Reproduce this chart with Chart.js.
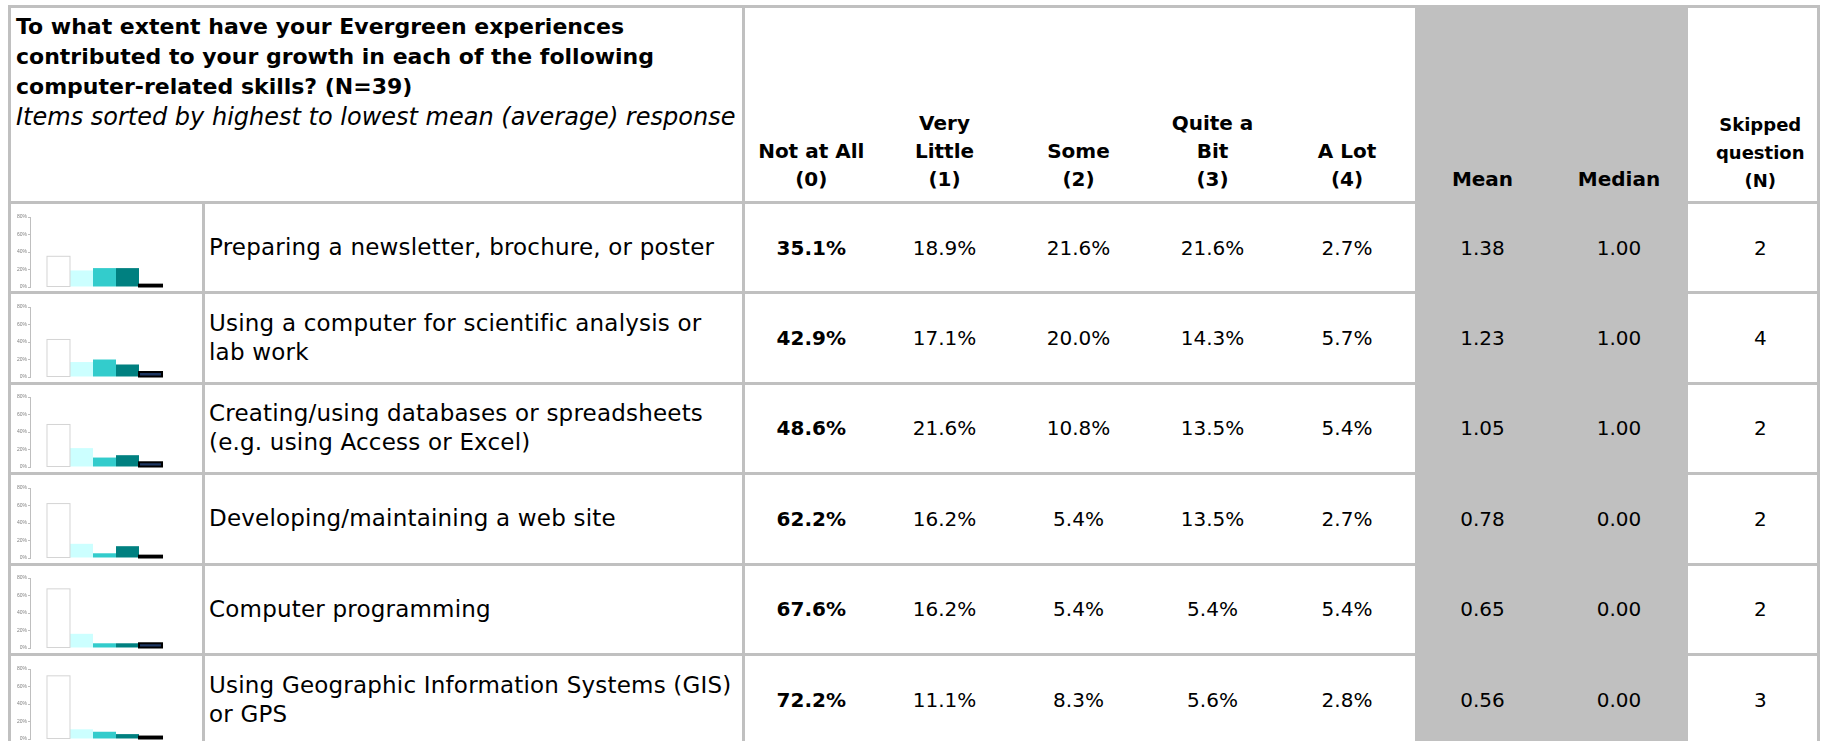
<!DOCTYPE html>
<html>
<head>
<meta charset="utf-8">
<script src="https://cdn.jsdelivr.net/npm/chart.js@4.4.1/dist/chart.umd.min.js"></script>
<style>
  html, body { margin: 0; padding: 0; background: #fff; overflow: hidden; }
  body { width: 1826px; height: 741px; position: relative;
         font-family: "DejaVu Sans", sans-serif; color: #000; }
  table { position: absolute; left: 8px; top: 5px; border-collapse: collapse; table-layout: fixed; }
  td { border: 3px solid #c0c0c0; padding: 0; font-size: 20px; }
  td.q { vertical-align: top; padding: 4px 5px; line-height: 30px; font-weight: bold; font-size: 22px; }
  td.q i { font-weight: normal; font-size: 24px; }
  td.h { vertical-align: bottom; text-align: center; font-weight: bold; line-height: 28px; padding-bottom: 8px; }
  td.nb { border-left: none; border-right: none; }
  td.gray { background: #c0c0c0; border-color: #c0c0c0; }
  td.chart { height: 84px; position: relative; }
  td.lab { padding: 0 4px; line-height: 29px; font-size: 23px; letter-spacing: 0.2px; white-space: pre-line; }
  td.num { text-align: center; }
  td.bold { font-weight: bold; }
  td.sk { border-left: none; padding-left: 16px; }
  .box { position: relative; width: 191px; height: 86px; }
</style>
</head>
<body>
<table id="tbl">
  <colgroup>
    <col style="width:194px"><col style="width:540px">
    <col style="width:134px"><col style="width:134px"><col style="width:134px"><col style="width:134px"><col style="width:135px">
    <col style="width:136px"><col style="width:137px"><col style="width:131px">
  </colgroup>
  <tr style="height:196px">
    <td class="q" colspan="2">To what extent have your Evergreen experiences<br>contributed to your growth in each of the following<br>computer-related skills? (N=39)<br><i>Items sorted by highest to lowest mean (average) response</i></td>
    <td class="h nb">Not at All<br>(0)</td>
    <td class="h nb">Very<br>Little<br>(1)</td>
    <td class="h nb">Some<br>(2)</td>
    <td class="h nb">Quite a<br>Bit<br>(3)</td>
    <td class="h nb">A Lot<br>(4)</td>
    <td class="h nb gray">Mean</td>
    <td class="h nb gray">Median</td>
    <td class="h sk" style="font-size:18px;padding-bottom:6px">Skipped<br>question<br>(N)</td>
  </tr>
</table>
<script>
// response categories
var responses = ["Not at All", "Very Little", "Some", "Quite a Bit", "A Lot"];

var items = [
  "Preparing a newsletter, brochure, or poster",
  "Using a computer for scientific analysis or\nlab work",
  "Creating/using databases or spreadsheets\n(e.g. using Access or Excel)",
  "Developing/maintaining a web site",
  "Computer programming",
  "Using Geographic Information Systems (GIS)\nor GPS"
];

// percent of answers per response
var notAtAll   = [35.1, 42.9, 48.6, 62.2, 67.6, 72.2];
var veryLittle = [18.9, 17.1, 21.6, 16.2, 16.2, 11.1];
var some       = [21.6, 20.0, 10.8, 5.4, 5.4, 8.3];
var quiteABit  = [21.6, 14.3, 13.5, 13.5, 5.4, 5.6];
var aLot       = [2.7, 5.7, 5.4, 2.7, 5.4, 2.8];

var means   = [1.38, 1.23, 1.05, 0.78, 0.65, 0.56];
var medians = [1.00, 1.00, 1.00, 0.00, 0.00, 0.00];
var skipped = [2, 4, 2, 2, 2, 3];

var yTicks = [0, 20, 40, 60, 80];

var fills    = ["#ffffff", "#ccffff", "#33cccc", "#008080", "#1f3864"];
var outlines = ["#d4d4d4", null, null, null, "#000000"];
var outlineW = [1, 0, 0, 0, 2];

// excel style outline: centered on the bar edge, not inset
var barOutline = {
    id: "barOutline",
    afterDatasetsDraw: function(chart){
        let c = chart.ctx;
        chart.data.datasets.forEach(function(d, j){
            if( !outlines[j] ) return;
            chart.getDatasetMeta(j).data.forEach(function(b){
                let p = b.getProps(["x", "y", "base", "width"], true);
                c.save();
                c.strokeStyle = outlines[j];
                c.lineWidth = outlineW[j];
                c.strokeRect(p.x - p.width / 2, p.y, p.width, p.base - p.y);
                c.restore();
            });
        });
    }
};

var tbl = document.getElementById("tbl");

for (let i = 0; i < items.length; i++) {

    let tr = document.createElement("tr");
    tr.style.height = "90.4px";

    let tdc = document.createElement("td");
    tdc.className = "chart";
    let box = document.createElement("div");
    box.className = "box";
    let cv = document.createElement("canvas");
    box.appendChild(cv);
    tdc.appendChild(box);
    tr.appendChild(tdc);

    let tdl = document.createElement("td");
    tdl.className = "lab";
    tdl.textContent = items[i];
    tr.appendChild(tdl);

    let vals = [notAtAll[i], veryLittle[i], some[i], quiteABit[i], aLot[i]];
    for (let j = 0; j < vals.length; j++) {
        let td = document.createElement("td");
        td.className = "num nb" + (j == 0 ? " bold" : "");
        td.textContent = vals[j].toFixed(1) + "%";
        tr.appendChild(td);
    }

    let tm = document.createElement("td");
    tm.className = "num nb gray";
    tm.textContent = means[i].toFixed(2);
    tr.appendChild(tm);

    let tmd = document.createElement("td");
    tmd.className = "num nb gray";
    tmd.textContent = medians[i].toFixed(2);
    tr.appendChild(tmd);

    let ts = document.createElement("td");
    ts.className = "num sk";
    ts.textContent = skipped[i];
    tr.appendChild(ts);

    tbl.appendChild(tr);

    let ds = [];
    for (let j = 0; j < responses.length; j++) {
        ds.push({
            label: responses[j],
            data: [vals[j]],
            backgroundColor: fills[j],
            borderWidth: 0,
            barPercentage: 1,
            categoryPercentage: 0.772
        });
    }

    new Chart(cv, {
        type: "bar",
        data: { labels: [""], datasets: ds },
        plugins: [barOutline],
        options: {
            responsive: true,
            maintainAspectRatio: false,
            animation: false,
            events: [],
            layout: { padding: { left: 0, right: 23, top: 12, bottom: 2 } },
            plugins: { legend: { display: false }, tooltip: { enabled: false } },
            scales: {
                x: { display: false },
                y: {
                    min: 0, max: 80,
                    afterBuildTicks: function(s){ s.ticks = yTicks.map(v => ({ value: v })); },
                    afterFit: function(s){ s.width = 19; },
                    grid: { drawOnChartArea: false, drawTicks: true, tickLength: 2, color: "#bfbfbf" },
                    border: { display: true, color: "#bfbfbf", width: 1 },
                    ticks: { padding: 1, color: "#808080", font: { size: 5 },
                             callback: function(v){ return v + "%"; } }
                }
            }
        }
    });
}
</script>
</body>
</html>
